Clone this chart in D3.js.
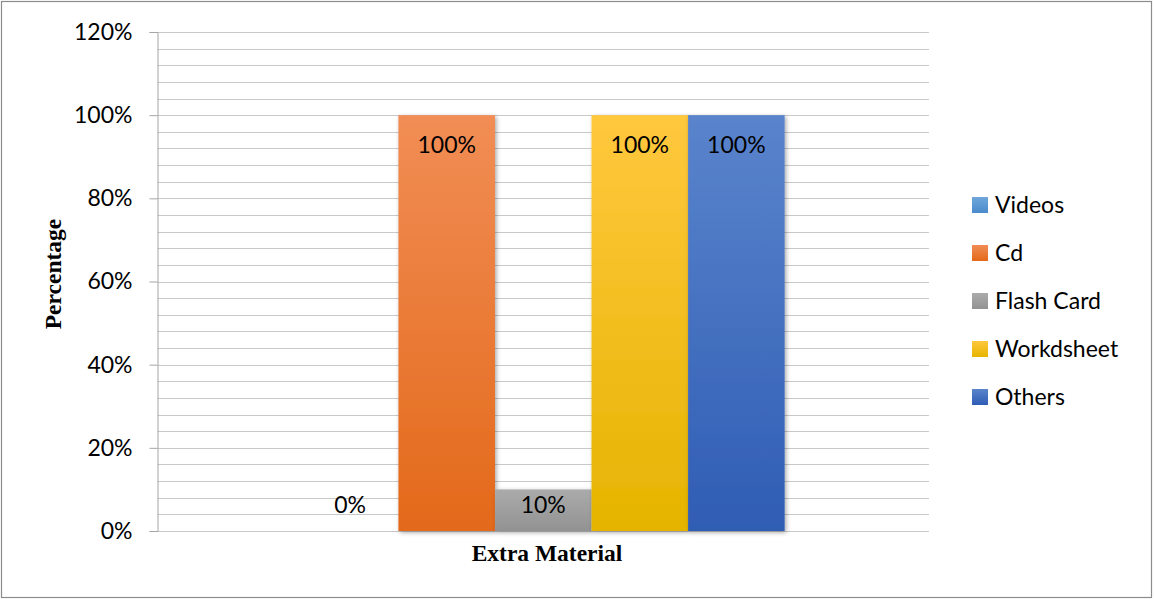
<!DOCTYPE html>
<html>
<head>
<meta charset="utf-8">
<script src="https://cdn.jsdelivr.net/npm/d3@7"></script>
<style>
  html, body { margin: 0; padding: 0; background: #fff; }
  svg { display: block; }
</style>
</head>
<body>
<svg id="chart" width="1154" height="599"></svg>
<script>
// Chart data
const category = "Extra Material";
const seriesNames = ["Videos", "Cd", "Flash Card", "Workdsheet", "Others"];
const seriesValues = [0, 1.0, 0.10, 1.0, 1.0];
const valueLabels = ["0%", "100%", "10%", "100%", "100%"];
const yTickValues = [0, 0.2, 0.4, 0.6, 0.8, 1.0, 1.2];
const yTickLabels = ["0%", "20%", "40%", "60%", "80%", "100%", "120%"];

// Fill gradients per series: [top, bottom]
const seriesColors = [
  ["#6FA6DC", "#4A8BCB"],
  ["#F18D55", "#E3691A"],
  ["#ABABAB", "#929292"],
  ["#FFC83E", "#E5B400"],
  ["#5A84CC", "#2F5DB4"]
];

const svg = d3.select("#chart");
const W = 1154, H = 599;
const margin = { left: 157.5, right: W - 929, top: 32, bottom: H - 531 };

const labelFont = "Lato, 'Open Sans', sans-serif";
const titleFont = "'Liberation Serif', 'DejaVu Serif', serif";
const labelSize = "23px";

// Outer frame
svg.append("rect")
  .attr("x", 1.5).attr("y", 1.5)
  .attr("width", W - 4).attr("height", H - 3)
  .attr("fill", "#fff").attr("stroke", "#8c8c8c").attr("stroke-width", 1.2);

const defs = svg.append("defs");
seriesColors.forEach((c, i) => {
  const g = defs.append("linearGradient")
    .attr("id", "grad" + i).attr("x1", 0).attr("y1", 0).attr("x2", 0).attr("y2", 1);
  g.append("stop").attr("offset", "0%").attr("stop-color", c[0]);
  g.append("stop").attr("offset", "100%").attr("stop-color", c[1]);
});
const shadow = defs.append("filter").attr("id", "shadow")
  .attr("x", "-20%").attr("y", "-20%").attr("width", "140%").attr("height", "140%");
shadow.append("feDropShadow")
  .attr("dx", 1.5).attr("dy", 1.5).attr("stdDeviation", 2)
  .attr("flood-color", "#000").attr("flood-opacity", 0.35);

// Scales
const x0 = d3.scaleBand()
  .domain([category])
  .range([margin.left, W - margin.right])
  .paddingOuter(0.299).paddingInner(0);
const x1 = d3.scaleBand()
  .domain(seriesNames)
  .range([0, x0.bandwidth()]);
const y = d3.scaleLinear().domain([0, 1.2]).range([H - margin.bottom, margin.top]);

// Gridlines every 4%
const gridVals = d3.range(0, 1.2001, 0.04);
svg.append("g").selectAll("line")
  .data(gridVals)
  .join("line")
  .attr("x1", margin.left).attr("x2", W - margin.right)
  .attr("y1", d => Math.round(y(d)) + 0.5).attr("y2", d => Math.round(y(d)) + 0.5)
  .attr("stroke", "#c9c9c9").attr("stroke-width", 1);

// Y axis
const yAxis = d3.axisLeft(y)
  .tickValues(yTickValues)
  .tickFormat((d, i) => yTickLabels[i])
  .tickSize(8).tickPadding(17);
const yg = svg.append("g")
  .attr("transform", `translate(${margin.left},0)`)
  .call(yAxis);
yg.select(".domain").attr("stroke", "#a6a6a6");
yg.selectAll(".tick line").attr("stroke", "#a6a6a6");
yg.selectAll(".tick text")
  .attr("fill", "#000")
  .style("font-family", labelFont)
  .style("font-size", labelSize);

// Bars
const bars = svg.append("g").attr("transform", `translate(${x0(category)},0)`);
bars.selectAll("rect")
  .data(seriesNames.map((n, i) => ({ name: n, value: seriesValues[i], i })))
  .join("rect")
  .attr("x", d => x1(d.name))
  .attr("y", d => y(d.value))
  .attr("width", x1.bandwidth())
  .attr("height", d => y(0) - y(d.value))
  .attr("fill", d => `url(#grad${d.i})`)
  .attr("filter", d => d.value > 0 ? "url(#shadow)" : null);

// Value labels
bars.selectAll("text")
  .data(seriesNames.map((n, i) => ({ name: n, value: seriesValues[i], label: valueLabels[i] })))
  .join("text")
  .attr("x", d => x1(d.name) + x1.bandwidth() / 2)
  .attr("y", d => d.value >= 0.5 ? y(d.value) + 30 : y(0) - 26)
  .attr("dy", "0.35em")
  .attr("text-anchor", "middle")
  .style("font-family", labelFont)
  .style("font-size", labelSize)
  .attr("fill", "#000")
  .text(d => d.label);

// Axis titles
svg.append("text")
  .attr("x", 547)
  .attr("y", 553).attr("dy", "0.35em")
  .attr("text-anchor", "middle")
  .style("font-family", titleFont).style("font-weight", "bold").style("font-size", "23.5px")
  .text(category);

svg.append("text")
  .attr("transform", "translate(53,274) rotate(-90)")
  .attr("dy", "0.35em")
  .attr("text-anchor", "middle")
  .style("font-family", titleFont).style("font-weight", "bold").style("font-size", "23.5px")
  .text("Percentage");

// Legend
const legend = svg.append("g").attr("transform", "translate(972,205)");
const items = legend.selectAll("g")
  .data(seriesNames)
  .join("g")
  .attr("transform", (d, i) => `translate(0,${i * 48})`);
items.append("rect")
  .attr("x", 0).attr("y", -8).attr("width", 16).attr("height", 16)
  .attr("fill", (d, i) => `url(#grad${i})`);
items.append("text")
  .attr("x", 23).attr("y", 0).attr("dy", "0.35em")
  .style("font-family", labelFont).style("font-size", labelSize)
  .attr("fill", "#000")
  .text(d => d);
</script>
</body>
</html>
